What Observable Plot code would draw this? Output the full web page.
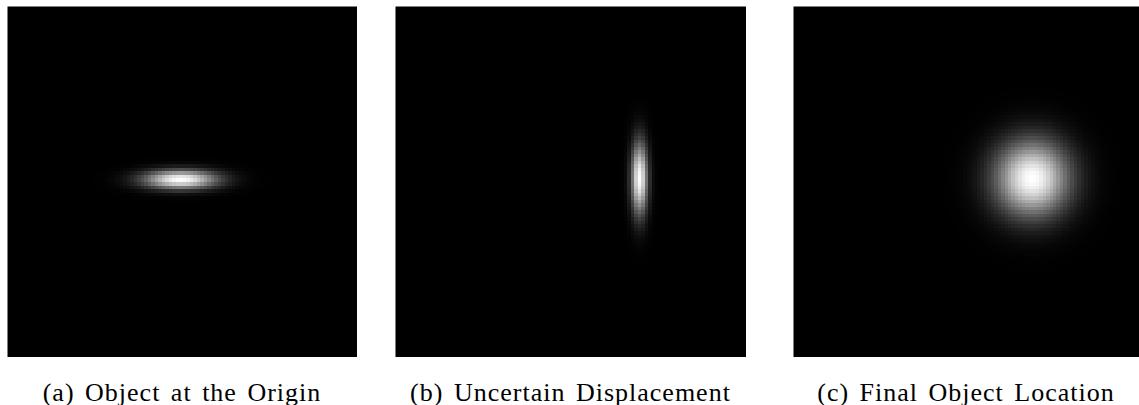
<!DOCTYPE html>
<html>
<head>
<meta charset="utf-8">
<script src="https://cdn.jsdelivr.net/npm/d3@7"></script>
<script src="https://cdn.jsdelivr.net/npm/@observablehq/plot@0.6"></script>
<style>
  html, body { margin: 0; padding: 0; background: #fff; overflow: hidden; }
  #root { position: relative; width: 1139px; height: 405px; }
  .panel { position: absolute; }
  .caption {
    position: absolute; text-align: center; white-space: nowrap;
    font-family: "Liberation Serif", "DejaVu Serif", serif;
    font-size: 26px; line-height: 26px; letter-spacing: 1px; word-spacing: 3px;
    color: #000;
  }
</style>
</head>
<body>
<div id="root"></div>
<script>
// Panel captions
const captions = ["(a) Object at the Origin", "(b) Uncertain Displacement", "(c) Final Object Location"];
// Gaussian blob centre (fraction of panel width / height from top-left)
const centerX = [0.494, 0.695, 0.69];
const centerY = [0.493, 0.49, 0.49];
// Gaussian spread (fraction of panel size)
const sigmaX = [0.072, 0.016, 0.074];
const sigmaY = [0.018, 0.070, 0.074];
// Image resolution (cells per side)
const gridCells = [100, 100, 100];

// Layout (pixels)
const panelLeft = [7, 395, 793];
const panelWidth = [350, 351, 346];
const panelTop = 6;
const panelHeight = 351;
const captionTop = 380;

const root = document.getElementById("root");

captions.forEach((cap, i) => {
  const cx = centerX[i], cy = centerY[i], sx = sigmaX[i], sy = sigmaY[i];
  const chart = Plot.plot({
    width: panelWidth[i],
    height: panelHeight,
    margin: 0,
    x: {domain: [0, 1], axis: null},
    y: {domain: [0, 1], axis: null, reverse: true},
    color: {type: "linear", domain: [0, 1], range: ["#000000", "#ffffff"], interpolate: "rgb"},
    marks: [
      Plot.raster({
        x1: 0, x2: 1, y1: 0, y2: 1,
        width: gridCells[i], height: gridCells[i],
        imageRendering: "pixelated",
        fill: (x, y) => Math.exp(-(((x - cx) ** 2) / (2 * sx * sx) + ((y - cy) ** 2) / (2 * sy * sy)))
      })
    ]
  });
  const wrap = document.createElement("div");
  wrap.className = "panel";
  wrap.style.left = panelLeft[i] + "px";
  wrap.style.top = panelTop + "px";
  wrap.appendChild(chart);
  root.appendChild(wrap);

  const c = document.createElement("div");
  c.className = "caption";
  c.textContent = cap;
  c.style.left = (panelLeft[i] + panelWidth[i] / 2 - 200) + "px";
  c.style.width = "400px";
  c.style.top = captionTop + "px";
  root.appendChild(c);
});
</script>
</body>
</html>
